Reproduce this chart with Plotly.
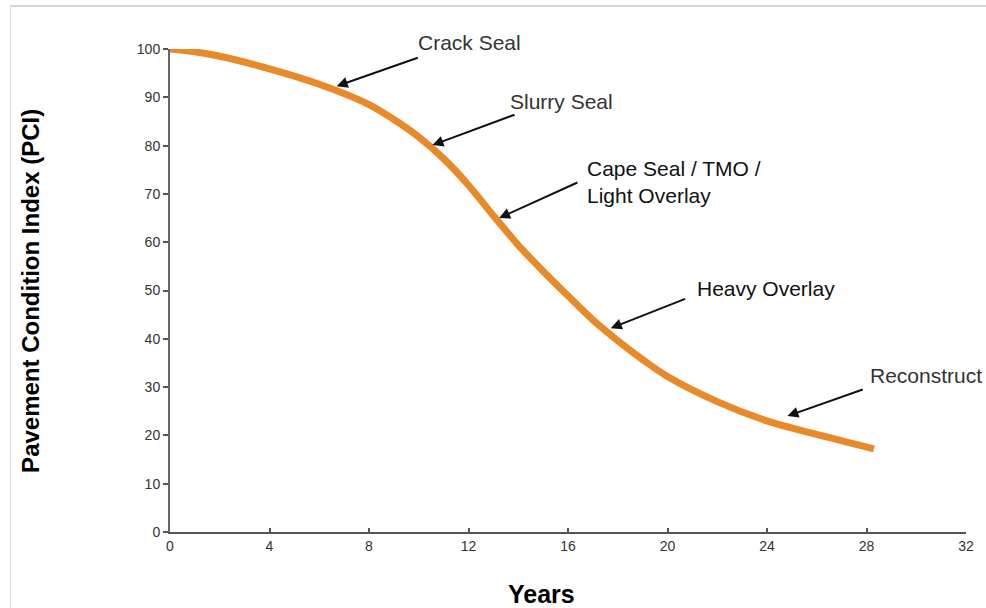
import plotly.graph_objects as go

# Data
years = [0, 1, 2, 4, 6, 8, 9, 10, 11, 12, 13, 14, 15, 16, 17, 18, 19, 20, 22, 24, 26, 28.3]
pci = [100, 99.4, 98.5, 95.9, 92.7, 88.5, 85.4, 81.8, 77.3, 71.8, 65.5, 59.4, 54.0, 48.9, 43.9, 39.6, 35.7, 32.2, 27.0, 23.0, 20.2, 17.2]

x_ticks = [0, 4, 8, 12, 16, 20, 24, 28, 32]
y_ticks = [0, 10, 20, 30, 40, 50, 60, 70, 80, 90, 100]

treatments = ["Crack Seal", "Slurry Seal", "Cape Seal / TMO /<br>Light Overlay", "Heavy Overlay", "Reconstruct"]
arrow_head_x = [6.70, 10.55, 13.23, 17.72, 24.82]
arrow_head_y = [92.3, 80.1, 65.0, 42.2, 24.0]
arrow_tail_x = [10.02, 13.91, 16.44, 20.77, 27.91]
arrow_tail_y = [98.3, 86.5, 72.5, 48.4, 29.6]
label_x = [12.03, 15.72, 16.70, 21.12, 28.05]
label_y = [101.3, 89.2, 72.5, 50.4, 32.5]
label_anchor = ["center", "center", "left", "left", "left"]
label_color = ["#333333", "#333333", "#111111", "#111111", "#333333"]
label_size = [21, 21, 21, 21, 21]

fig = go.Figure()
fig.add_trace(go.Scatter(
    x=years, y=pci, mode="lines",
    line=dict(color="#E8892A", width=7, shape="spline", smoothing=0.9),
    cliponaxis=False, showlegend=False, hoverinfo="skip",
))

for i, t in enumerate(treatments):
    fig.add_annotation(
        x=arrow_head_x[i], y=arrow_head_y[i], xref="x", yref="y",
        ax=arrow_tail_x[i], ay=arrow_tail_y[i], axref="x", ayref="y",
        text="", showarrow=True, arrowhead=2, arrowsize=1.1, arrowwidth=2,
        arrowcolor="#111111",
    )
    fig.add_annotation(
        x=label_x[i], y=label_y[i] / 100.0, xref="x", yref="paper",
        text=t, showarrow=False, xanchor=label_anchor[i], yanchor="middle",
        align="left",
        font=dict(family="Liberation Sans, Arial", size=label_size[i], color=label_color[i]),
    )

fig.add_annotation(
    x=-0.1754, y=0.5, xref="paper", yref="paper", text="<b>Pavement Condition Index (PCI)</b>",
    textangle=-90, showarrow=False, xanchor="center", yanchor="middle",
    font=dict(family="Liberation Sans, Arial", size=24, color="#000000"),
)
fig.add_annotation(
    x=0.467, y=-0.128, xref="paper", yref="paper", text="<b>Years</b>",
    showarrow=False, xanchor="center", yanchor="middle",
    font=dict(family="Liberation Sans, Arial", size=25, color="#000000"),
)

# faint frame of the original image
fig.add_shape(type="line", xref="paper", yref="paper", x0=-0.2005, x1=1.03, y0=1.089, y1=1.089,
              line=dict(color="#c8c8c8", width=1.5))
fig.add_shape(type="line", xref="paper", yref="paper", x0=-0.2005, x1=-0.2005, y0=1.089, y1=-0.16,
              line=dict(color="#dddddd", width=1))

fig.update_layout(
    width=986, height=608,
    margin=dict(l=170, r=18, t=49, b=76),
    paper_bgcolor="white", plot_bgcolor="white",
    font=dict(family="Liberation Sans, Arial", size=14, color="#333333"),
    xaxis=dict(range=[0, 32], tickvals=x_ticks, showgrid=False, zeroline=False,
               showline=True, linecolor="#555555", linewidth=2,
               ticks="inside", ticklen=4, tickcolor="#555555", tickwidth=2,
               tickfont=dict(size=14, color="#333333")),
    yaxis=dict(range=[0, 100], tickvals=y_ticks, showgrid=False, zeroline=False,
               showline=True, linecolor="#666666", linewidth=2,
               ticks="outside", ticklen=5, tickcolor="#555555", tickwidth=1.5,
               tickfont=dict(size=14, color="#333333")),
)

fig.write_html(
    "out.html",
    config={"displayModeBar": False},
    post_script="document.body.style.margin='0';document.body.style.overflow='hidden';",
)
